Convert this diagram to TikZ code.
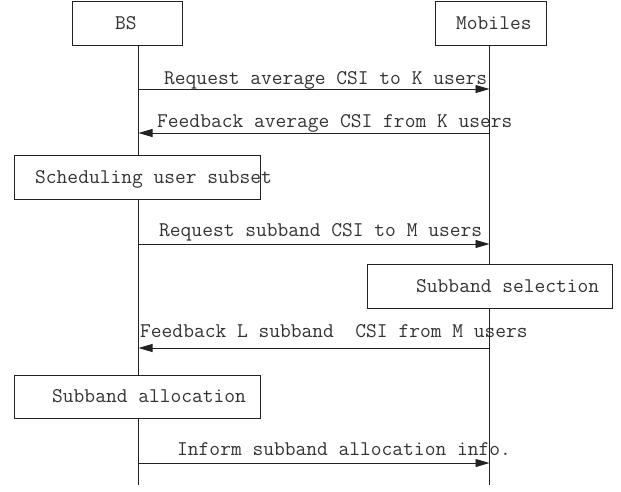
\documentclass[tikz,border=0pt]{standalone}
\usepackage{fontspec}
\usetikzlibrary{arrows.meta}
\definecolor{ink}{HTML}{222222}
\definecolor{txt}{HTML}{333333}
\begin{document}
\begin{tikzpicture}[x=1pt,y=-1pt,
  boxnode/.style={draw=ink, line width=0.9pt, fill=white, inner sep=0, anchor=north west},
  lbl/.style={font=\fontsize{20.9}{22}\selectfont\ttfamily, text=txt, inner sep=0, anchor=base west},
  lifeline/.style={draw=ink, line width=0.9pt},
  msg/.style={draw=ink, line width=0.9pt, -{Triangle[length=14pt,width=8pt]}}]
\useasboundingbox (0,0) rectangle (621,491);
% header boxes
\node[boxnode, minimum width=110pt, minimum height=44pt] (bs) at (72,0.5) {};
\node[boxnode, minimum width=111pt, minimum height=44pt] (mob) at (435,0.5) {};
\node[lbl] (bst) at (115,29) {BS};
\node[lbl] (mobt) at (456,29) {Mobiles};
% lifelines
\coordinate (bsend) at (138.5,485);
\coordinate (mobend) at (489.5,485);
\draw[lifeline] (bsend |- bs.south) -- (bsend);
\draw[lifeline] (mobend |- mob.south) -- (mobend);
% messages
\coordinate (m1s) at (138.5,89);   \coordinate (m1e) at (489.5,89);
\coordinate (m2s) at (489.5,133);  \coordinate (m2e) at (138.5,133);
\coordinate (m3s) at (138.5,244);  \coordinate (m3e) at (489.5,244);
\coordinate (m4s) at (489.5,348);  \coordinate (m4e) at (138.5,348);
\coordinate (m5s) at (138.5,463);  \coordinate (m5e) at (489.5,463);
\draw[msg] (m1s) -- (m1e);
\draw[msg] (m2s) -- (m2e);
\draw[msg] (m3s) -- (m3e);
\draw[msg] (m4s) -- (m4e);
\draw[msg] (m5s) -- (m5e);
\node[lbl] (t1) at (164,84) {Request average CSI to K users};
\node[lbl] (t2) at (157,127) {Feedback average CSI from K users};
\node[lbl] (t3) at (159,236) {Request subband CSI to M users};
\node[lbl] (t4) at (140,337) {Feedback L subband\ \ CSI from M users};
\node[lbl] (t5) at (177,455) {Inform subband allocation info.};
% activity boxes
\node[boxnode, minimum width=246pt, minimum height=44pt] (sched) at (14,155) {};
\node[lbl] (schedt) at (35,183) {Scheduling user subset};
\node[boxnode, minimum width=245pt, minimum height=44pt] (sel) at (367,264) {};
\node[lbl] (selt) at (416,292) {Subband selection};
\node[boxnode, minimum width=246pt, minimum height=43pt] (alloc) at (14,375) {};
\node[lbl] (alloct) at (52,402) {Subband allocation};
\end{tikzpicture}
\end{document}
